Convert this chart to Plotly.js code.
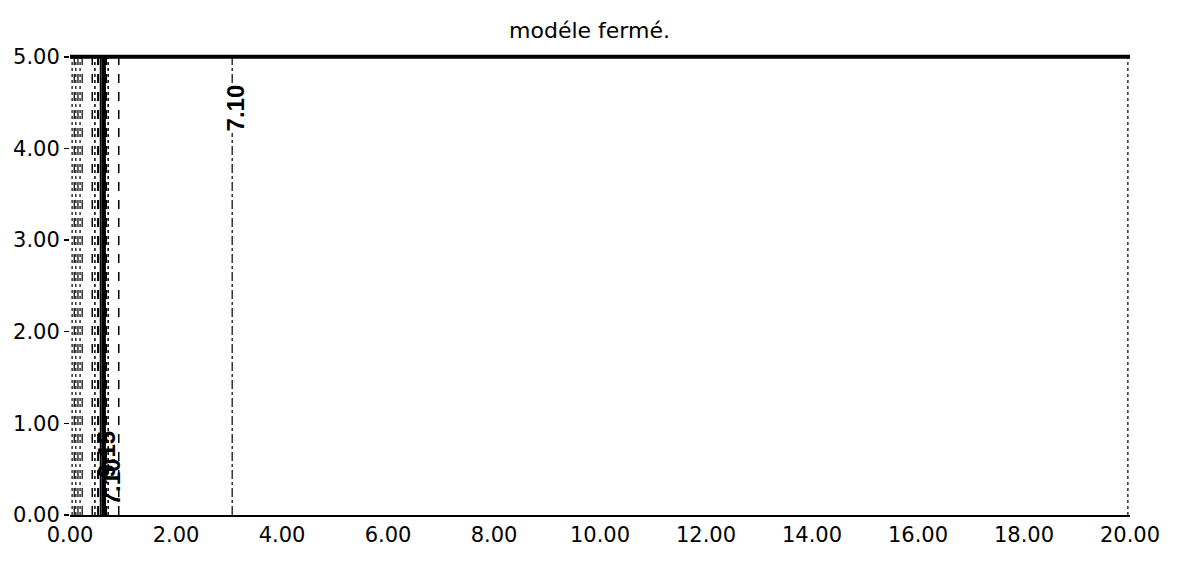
<!DOCTYPE html>
<html><head><meta charset="utf-8">
<script src="https://cdn.plot.ly/plotly-3.0.1.min.js"></script>
<style>body{margin:0;background:#fff}#chart{width:1179px;height:561px}</style>
</head><body><div id="chart"></div>
<script>
// Contour line x-positions (vertical isolines), their style
var contourX     = [0.04, 0.08, 0.11, 0.15, 0.19, 0.23, 0.42, 0.47, 0.53, 0.58, 0.64, 0.68, 0.72, 0.92, 3.06, 19.96];
var contourWidth = [1.2, 1.2, 1.2, 1.2, 1.2, 1.2, 1.5, 1.5, 2, 2, 4, 2, 1.5, 1.5, 1.2, 1.2];
var contourDash  = ["dot","dash","dot","dash","dot","dash","dash","dot","dash","solid","solid","dash","dot","dash","dashdot","dot"];
var yBottom = 0, yTop = 5;
// Top boundary contour
var topLineX = [0, 20];
var topLineY = [5, 5];
// Contour labels
var labelX    = [3.12, 0.68, 0.78];
var labelY    = [4.44, 0.66, 0.36];
var labelText = ["7.10", "9.15", "7.10"];
var xTicks = [0,2,4,6,8,10,12,14,16,18,20];
var yTicks = [0,1,2,3,4,5];

var traces = [];
for (var i = 0; i < contourX.length; i++) {
  traces.push({x:[contourX[i], contourX[i]], y:[yBottom, yTop], mode:"lines",
    line:{color:"#000", width:contourWidth[i], dash:contourDash[i]}, hoverinfo:"skip", showlegend:false});
}
traces.push({x:topLineX, y:topLineY, mode:"lines", line:{color:"#000", width:4}, showlegend:false});

var annotations = labelX.map(function(x, i){
  return {x:x, y:labelY[i], xref:"x", yref:"y", text:"<b>"+labelText[i]+"</b>", showarrow:false,
    textangle:-90, font:{family:"Liberation Sans, Arial", size:24, color:"#000"},
    bgcolor: i===0 ? "#fff" : "rgba(0,0,0,0)"};
});

var tickFont = {family:"DejaVu Sans", size:21, color:"#000"};
var layout = {
  width:1179, height:561,
  margin:{l:70, r:49, t:54, b:46},
  paper_bgcolor:"#fff", plot_bgcolor:"#fff",
  title:{text:"modéle fermé.", x:0.5, xanchor:"center", y:0.96, yanchor:"top",
    font:{family:"DejaVu Sans", size:22, color:"#000"}},
  xaxis:{range:[0,20], tickvals:xTicks, tickformat:".2f", showgrid:false, zeroline:false,
    showline:true, linecolor:"#000", linewidth:1.5, ticks:"", tickfont:tickFont},
  yaxis:{range:[0,5.03], tickvals:yTicks, tickformat:".2f", showgrid:false, zeroline:false,
    showline:false, ticks:"outside", ticklen:5, tickcolor:"#000", tickwidth:1.5, tickfont:tickFont},
  annotations:annotations,
  showlegend:false
};
Plotly.newPlot("chart", traces, layout, {staticPlot:true});
</script></body></html>
